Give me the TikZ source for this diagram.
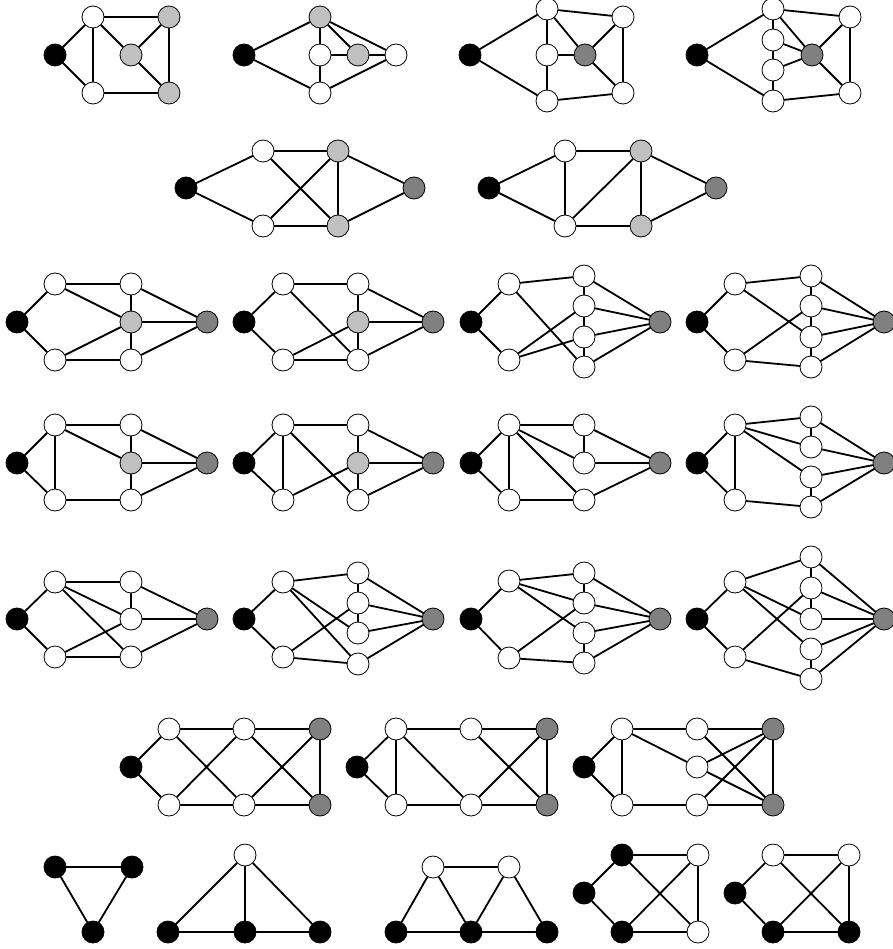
\documentclass[tikz,border=0pt]{standalone}
\usetikzlibrary{backgrounds}
\definecolor{lgray}{RGB}{192,192,192}
\definecolor{dgray}{RGB}{128,128,128}
\tikzset{
  vx/.style={circle,draw=black,line width=0.8pt,minimum size=22pt,inner sep=0pt},
  wv/.style={vx,fill=white},
  kv/.style={vx,fill=black},
  lv/.style={vx,fill=lgray},
  dv/.style={vx,fill=dgray},
  ed/.style={line width=1.8pt,line cap=round},
}
\begin{document}
\begin{tikzpicture}[x=1pt,y=-1pt]
\useasboundingbox (0,0) rectangle (892,949);

% ---------- row 1 ----------
\node[kv] (g1k) at (55,55) {};
\node[wv] (g1a) at (93,17) {};
\node[wv] (g1b) at (93,93) {};
\node[lv] (g1c) at (169,17) {};
\node[lv] (g1d) at (131,55) {};
\node[lv] (g1e) at (169,93) {};
\begin{scope}[on background layer]
\draw[ed] (g1k)--(g1a) (g1k)--(g1b) (g1a)--(g1b) (g1a)--(g1c) (g1a)--(g1d)
  (g1d)--(g1c) (g1d)--(g1e) (g1c)--(g1e) (g1b)--(g1e);
\end{scope}

\node[kv] (g2k) at (244,55) {};
\node[lv] (g2t) at (320,17) {};
\node[wv] (g2m) at (320,55) {};
\node[lv] (g2g) at (358,55) {};
\node[wv] (g2r) at (396,55) {};
\node[wv] (g2b) at (320,93) {};
\begin{scope}[on background layer]
\draw[ed] (g2k)--(g2t) (g2k)--(g2b) (g2t)--(g2m) (g2m)--(g2b) (g2m)--(g2g)
  (g2g)--(g2r) (g2t)--(g2g) (g2t)--(g2r) (g2b)--(g2r);
\end{scope}

\node[kv] (g3k) at (470,55) {};
\node[wv] (g3t) at (547,9) {};
\node[wv] (g3m) at (547,55) {};
\node[dv] (g3d) at (585,55) {};
\node[wv] (g3p) at (623,17) {};
\node[wv] (g3q) at (623,93) {};
\node[wv] (g3b) at (547,101) {};
\begin{scope}[on background layer]
\draw[ed] (g3k)--(g3t) (g3k)--(g3b) (g3t)--(g3m) (g3m)--(g3b) (g3m)--(g3d)
  (g3t)--(g3d) (g3t)--(g3p) (g3p)--(g3d) (g3p)--(g3q) (g3d)--(g3q) (g3b)--(g3q);
\end{scope}

\node[kv] (g4k) at (697,55) {};
\node[wv] (g4t) at (773,9) {};
\node[wv] (g4u) at (773,40) {};
\node[wv] (g4w) at (773,70) {};
\node[dv] (g4d) at (812,55) {};
\node[wv] (g4p) at (850,17) {};
\node[wv] (g4q) at (850,93) {};
\node[wv] (g4b) at (773,101) {};
\begin{scope}[on background layer]
\draw[ed] (g4k)--(g4t) (g4k)--(g4b) (g4t)--(g4u) (g4u)--(g4w) (g4w)--(g4b)
  (g4t)--(g4d) (g4u)--(g4d) (g4w)--(g4d) (g4p)--(g4d) (g4p)--(g4q)
  (g4t)--(g4p) (g4d)--(g4q) (g4b)--(g4q);
\end{scope}

% ---------- row 2 ----------
\node[kv] (g5k) at (186,188) {};
\node[wv] (g5a) at (263,151) {};
\node[wv] (g5b) at (263,226) {};
\node[lv] (g5c) at (338,151) {};
\node[lv] (g5d) at (338,226) {};
\node[dv] (g5f) at (414,188) {};
\begin{scope}[on background layer]
\draw[ed] (g5k)--(g5a) (g5k)--(g5b) (g5a)--(g5c) (g5b)--(g5d) (g5a)--(g5d)
  (g5b)--(g5c) (g5c)--(g5d) (g5c)--(g5f) (g5d)--(g5f);
\end{scope}

\node[kv] (g6k) at (489,188) {};
\node[wv] (g6a) at (565,151) {};
\node[wv] (g6b) at (565,226) {};
\node[lv] (g6c) at (641,151) {};
\node[lv] (g6d) at (641,226) {};
\node[dv] (g6f) at (716,188) {};
\begin{scope}[on background layer]
\draw[ed] (g6k)--(g6a) (g6k)--(g6b) (g6a)--(g6b) (g6a)--(g6c) (g6b)--(g6d)
  (g6b)--(g6c) (g6c)--(g6d) (g6c)--(g6f) (g6d)--(g6f);
\end{scope}

% ---------- row 3 ----------
\node[kv] (g7k) at (17,322) {};
\node[wv] (g7a) at (55,284) {};
\node[wv] (g7b) at (55,360) {};
\node[wv] (g7c) at (131,284) {};
\node[lv] (g7m) at (131,322) {};
\node[wv] (g7d) at (131,360) {};
\node[dv] (g7f) at (207,322) {};
\begin{scope}[on background layer]
\draw[ed] (g7k)--(g7a) (g7k)--(g7b) (g7a)--(g7c) (g7a)--(g7m) (g7c)--(g7m)
  (g7c)--(g7f) (g7m)--(g7f) (g7m)--(g7d) (g7b)--(g7m) (g7b)--(g7d) (g7d)--(g7f);
\end{scope}

\node[kv] (g8k) at (244,322) {};
\node[wv] (g8a) at (283,284) {};
\node[wv] (g8b) at (283,360) {};
\node[wv] (g8c) at (358,284) {};
\node[lv] (g8m) at (358,322) {};
\node[wv] (g8d) at (358,360) {};
\node[dv] (g8f) at (433,322) {};
\begin{scope}[on background layer]
\draw[ed] (g8k)--(g8a) (g8k)--(g8b) (g8a)--(g8c) (g8a)--(g8d) (g8c)--(g8m)
  (g8c)--(g8f) (g8m)--(g8d) (g8m)--(g8f) (g8b)--(g8m) (g8b)--(g8d) (g8d)--(g8f);
\end{scope}

\node[kv] (g9k) at (471,322) {};
\node[wv] (g9a) at (509,284) {};
\node[wv] (g9b) at (509,360) {};
\node[wv] (g9p) at (584,276) {};
\node[wv] (g9q) at (584,306) {};
\node[wv] (g9r) at (584,337) {};
\node[wv] (g9s) at (584,367) {};
\node[dv] (g9f) at (660,322) {};
\begin{scope}[on background layer]
\draw[ed] (g9k)--(g9a) (g9k)--(g9b) (g9a)--(g9p) (g9a)--(g9s) (g9p)--(g9q)
  (g9q)--(g9r) (g9r)--(g9s) (g9b)--(g9q) (g9b)--(g9r)
  (g9p)--(g9f) (g9q)--(g9f) (g9r)--(g9f) (g9s)--(g9f);
\end{scope}

\node[kv] (g10k) at (697,322) {};
\node[wv] (g10a) at (735,284) {};
\node[wv] (g10b) at (735,360) {};
\node[wv] (g10p) at (811,276) {};
\node[wv] (g10q) at (811,306) {};
\node[wv] (g10r) at (811,337) {};
\node[wv] (g10s) at (811,367) {};
\node[dv] (g10f) at (884,322) {};
\begin{scope}[on background layer]
\draw[ed] (g10k)--(g10a) (g10k)--(g10b) (g10a)--(g10p) (g10a)--(g10r)
  (g10p)--(g10q) (g10q)--(g10r) (g10r)--(g10s) (g10b)--(g10q) (g10b)--(g10s)
  (g10p)--(g10f) (g10q)--(g10f) (g10r)--(g10f) (g10s)--(g10f);
\end{scope}

% ---------- row 4 ----------
\node[kv] (g11k) at (17,463) {};
\node[wv] (g11a) at (55,425) {};
\node[wv] (g11b) at (55,500) {};
\node[wv] (g11c) at (131,425) {};
\node[lv] (g11m) at (131,463) {};
\node[wv] (g11d) at (131,500) {};
\node[dv] (g11f) at (207,463) {};
\begin{scope}[on background layer]
\draw[ed] (g11k)--(g11a) (g11k)--(g11b) (g11a)--(g11b) (g11a)--(g11c)
  (g11a)--(g11m) (g11c)--(g11m) (g11c)--(g11f) (g11m)--(g11f) (g11m)--(g11d)
  (g11b)--(g11d) (g11d)--(g11f);
\end{scope}

\node[kv] (g12k) at (244,463) {};
\node[wv] (g12a) at (283,425) {};
\node[wv] (g12b) at (283,500) {};
\node[wv] (g12c) at (358,425) {};
\node[lv] (g12m) at (358,463) {};
\node[wv] (g12d) at (358,500) {};
\node[dv] (g12f) at (433,463) {};
\begin{scope}[on background layer]
\draw[ed] (g12k)--(g12a) (g12k)--(g12b) (g12a)--(g12b) (g12a)--(g12c)
  (g12a)--(g12d) (g12c)--(g12m) (g12c)--(g12f) (g12m)--(g12d) (g12m)--(g12f)
  (g12b)--(g12m) (g12d)--(g12f);
\end{scope}

\node[kv] (g13k) at (471,463) {};
\node[wv] (g13a) at (509,425) {};
\node[wv] (g13b) at (509,500) {};
\node[wv] (g13c) at (584,425) {};
\node[wv] (g13m) at (584,463) {};
\node[wv] (g13d) at (584,500) {};
\node[dv] (g13f) at (660,463) {};
\begin{scope}[on background layer]
\draw[ed] (g13k)--(g13a) (g13k)--(g13b) (g13a)--(g13b) (g13a)--(g13c)
  (g13a)--(g13m) (g13a)--(g13d) (g13c)--(g13m) (g13c)--(g13f) (g13m)--(g13f)
  (g13b)--(g13d) (g13d)--(g13f);
\end{scope}

\node[kv] (g14k) at (697,463) {};
\node[wv] (g14a) at (735,425) {};
\node[wv] (g14b) at (735,500) {};
\node[wv] (g14p) at (811,417) {};
\node[wv] (g14q) at (811,447) {};
\node[wv] (g14r) at (811,477) {};
\node[wv] (g14s) at (811,507) {};
\node[dv] (g14f) at (884,463) {};
\begin{scope}[on background layer]
\draw[ed] (g14k)--(g14a) (g14k)--(g14b) (g14a)--(g14b) (g14a)--(g14p)
  (g14a)--(g14q) (g14a)--(g14r) (g14p)--(g14q) (g14r)--(g14s) (g14b)--(g14s)
  (g14p)--(g14f) (g14q)--(g14f) (g14r)--(g14f) (g14s)--(g14f);
\end{scope}

% ---------- row 5 ----------
\node[kv] (g15k) at (17,619) {};
\node[wv] (g15a) at (55,582) {};
\node[wv] (g15b) at (55,657) {};
\node[wv] (g15c) at (131,582) {};
\node[wv] (g15m) at (131,619) {};
\node[wv] (g15d) at (131,657) {};
\node[dv] (g15f) at (207,619) {};
\begin{scope}[on background layer]
\draw[ed] (g15k)--(g15a) (g15k)--(g15b) (g15a)--(g15c) (g15a)--(g15m)
  (g15a)--(g15d) (g15c)--(g15m) (g15c)--(g15f) (g15m)--(g15f) (g15b)--(g15m)
  (g15b)--(g15d) (g15d)--(g15f);
\end{scope}

\node[kv] (g16k) at (244,619) {};
\node[wv] (g16a) at (283,582) {};
\node[wv] (g16b) at (283,657) {};
\node[wv] (g16p) at (358,573) {};
\node[wv] (g16q) at (358,603) {};
\node[wv] (g16r) at (358,633) {};
\node[wv] (g16s) at (358,664) {};
\node[dv] (g16f) at (433,619) {};
\begin{scope}[on background layer]
\draw[ed] (g16k)--(g16a) (g16k)--(g16b) (g16a)--(g16p) (g16a)--(g16r)
  (g16a)--(g16s) (g16p)--(g16q) (g16q)--(g16r) (g16b)--(g16q) (g16b)--(g16s)
  (g16p)--(g16f) (g16q)--(g16f) (g16r)--(g16f) (g16s)--(g16f);
\end{scope}

\node[kv] (g17k) at (471,619) {};
\node[wv] (g17a) at (509,581) {};
\node[wv] (g17b) at (509,658) {};
\node[wv] (g17p) at (584,573) {};
\node[wv] (g17q) at (584,603) {};
\node[wv] (g17r) at (584,633) {};
\node[wv] (g17s) at (584,663) {};
\node[dv] (g17f) at (660,619) {};
\begin{scope}[on background layer]
\draw[ed] (g17k)--(g17a) (g17k)--(g17b) (g17a)--(g17p) (g17a)--(g17q)
  (g17a)--(g17r) (g17p)--(g17q) (g17r)--(g17s) (g17b)--(g17q) (g17b)--(g17s)
  (g17p)--(g17f) (g17q)--(g17f) (g17r)--(g17f) (g17s)--(g17f);
\end{scope}

\node[kv] (g18k) at (697,619) {};
\node[wv] (g18a) at (735,582) {};
\node[wv] (g18b) at (735,657) {};
\node[wv] (g18p) at (811,557) {};
\node[wv] (g18q) at (811,588) {};
\node[wv] (g18r) at (811,619) {};
\node[wv] (g18s) at (811,649) {};
\node[wv] (g18t) at (811,679) {};
\node[dv] (g18f) at (884,619) {};
\begin{scope}[on background layer]
\draw[ed] (g18k)--(g18a) (g18k)--(g18b) (g18a)--(g18p) (g18a)--(g18r)
  (g18a)--(g18s) (g18p)--(g18q) (g18q)--(g18r) (g18s)--(g18t)
  (g18b)--(g18q) (g18b)--(g18t)
  (g18p)--(g18f) (g18q)--(g18f) (g18r)--(g18f) (g18s)--(g18f) (g18t)--(g18f);
\end{scope}

% ---------- row 6 ----------
\node[kv] (g19k) at (131,767) {};
\node[wv] (g19a) at (169,729) {};
\node[wv] (g19b) at (169,805) {};
\node[wv] (g19c) at (244,729) {};
\node[wv] (g19d) at (244,805) {};
\node[dv] (g19f) at (320,729) {};
\node[dv] (g19g) at (320,805) {};
\begin{scope}[on background layer]
\draw[ed] (g19k)--(g19a) (g19k)--(g19b) (g19a)--(g19c) (g19b)--(g19d)
  (g19a)--(g19d) (g19b)--(g19c) (g19c)--(g19f) (g19d)--(g19g)
  (g19c)--(g19g) (g19d)--(g19f) (g19f)--(g19g);
\end{scope}

\node[kv] (g20k) at (357,767) {};
\node[wv] (g20a) at (396,729) {};
\node[wv] (g20b) at (396,805) {};
\node[wv] (g20c) at (471,729) {};
\node[wv] (g20d) at (471,805) {};
\node[dv] (g20f) at (547,729) {};
\node[dv] (g20g) at (547,805) {};
\begin{scope}[on background layer]
\draw[ed] (g20k)--(g20a) (g20k)--(g20b) (g20a)--(g20b) (g20a)--(g20c)
  (g20c)--(g20f) (g20a)--(g20d) (g20b)--(g20d) (g20d)--(g20g)
  (g20c)--(g20g) (g20d)--(g20f) (g20f)--(g20g);
\end{scope}

\node[kv] (g21k) at (584,767) {};
\node[wv] (g21a) at (622,729) {};
\node[wv] (g21b) at (622,805) {};
\node[wv] (g21c) at (697,729) {};
\node[wv] (g21m) at (697,767) {};
\node[wv] (g21d) at (697,805) {};
\node[dv] (g21f) at (773,729) {};
\node[dv] (g21g) at (773,805) {};
\begin{scope}[on background layer]
\draw[ed] (g21k)--(g21a) (g21k)--(g21b) (g21a)--(g21b) (g21a)--(g21c)
  (g21c)--(g21f) (g21a)--(g21m) (g21b)--(g21d) (g21d)--(g21g)
  (g21m)--(g21f) (g21m)--(g21g) (g21c)--(g21g) (g21d)--(g21f) (g21f)--(g21g);
\end{scope}

% ---------- row 7 ----------
\node[kv] (g22a) at (55,867) {};
\node[kv] (g22b) at (132,867) {};
\node[kv] (g22c) at (93,932) {};
\begin{scope}[on background layer]
\draw[ed] (g22a)--(g22b) (g22b)--(g22c) (g22c)--(g22a);
\end{scope}

\node[wv] (g23t) at (245,855) {};
\node[kv] (g23a) at (168,932) {};
\node[kv] (g23b) at (245,932) {};
\node[kv] (g23c) at (320,932) {};
\begin{scope}[on background layer]
\draw[ed] (g23t)--(g23a) (g23t)--(g23b) (g23t)--(g23c) (g23a)--(g23b) (g23b)--(g23c);
\end{scope}

\node[wv] (g24t) at (433,867) {};
\node[wv] (g24u) at (509,867) {};
\node[kv] (g24a) at (396,932) {};
\node[kv] (g24b) at (471,932) {};
\node[kv] (g24c) at (547,932) {};
\begin{scope}[on background layer]
\draw[ed] (g24a)--(g24t) (g24t)--(g24b) (g24t)--(g24u) (g24b)--(g24u)
  (g24u)--(g24c) (g24a)--(g24b) (g24b)--(g24c);
\end{scope}

\node[kv] (g25t) at (622,855) {};
\node[kv] (g25l) at (584,893) {};
\node[kv] (g25b) at (622,932) {};
\node[wv] (g25p) at (698,855) {};
\node[wv] (g25q) at (698,932) {};
\begin{scope}[on background layer]
\draw[ed] (g25l)--(g25t) (g25l)--(g25b) (g25t)--(g25p) (g25t)--(g25q)
  (g25b)--(g25p) (g25b)--(g25q) (g25p)--(g25q);
\end{scope}

\node[wv] (g26t) at (773,855) {};
\node[kv] (g26l) at (735,893) {};
\node[kv] (g26b) at (773,932) {};
\node[wv] (g26p) at (849,855) {};
\node[kv] (g26q) at (849,932) {};
\begin{scope}[on background layer]
\draw[ed] (g26l)--(g26t) (g26l)--(g26b) (g26t)--(g26p) (g26t)--(g26q)
  (g26b)--(g26p) (g26b)--(g26q) (g26p)--(g26q);
\end{scope}
\end{tikzpicture}
\end{document}
